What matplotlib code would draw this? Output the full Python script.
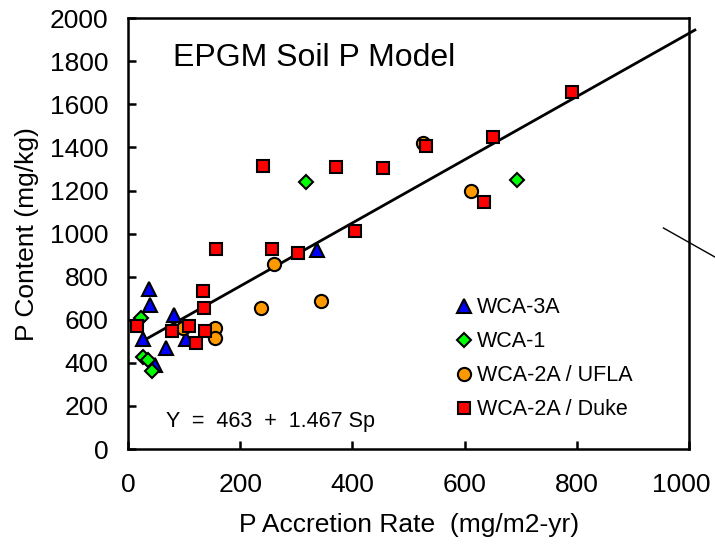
import matplotlib
matplotlib.use('Agg')
import matplotlib.pyplot as plt
from matplotlib.transforms import ScaledTranslation

plt.rcParams['font.family'] = ['Liberation Sans', 'DejaVu Sans']

# Data
wca3a_x = [38, 39, 82, 27, 68, 103, 48, 337]
wca3a_y = [745, 668, 622, 510, 469, 510, 390, 923]

wca1_x = [23, 27, 36, 43, 318, 693]
wca1_y = [608, 427, 413, 362, 1239, 1248]

ufla_x = [98, 155, 155, 260, 237, 344, 526, 611]
ufla_y = [562, 562, 515, 858, 654, 687, 1420, 1197]

duke_x = [241, 157, 257, 303, 134, 135, 16, 79, 109, 121, 137, 405, 371, 455, 531, 651, 635, 791]
duke_y = [1313, 928, 928, 909, 733, 654, 571, 548, 571, 492, 548, 1012, 1309, 1304, 1406, 1448, 1146, 1657]

# regression: Y = 463 + 1.467 Sp
INTERCEPT = 463
SLOPE = 1.467
fit_x = [35, 1010]

# stray segment at the right edge of the original figure
stray_x = [954, 1050]
stray_y = [1026, 885]

x_ticks = [0, 200, 400, 600, 800, 1000]
y_ticks = [0, 200, 400, 600, 800, 1000, 1200, 1400, 1600, 1800, 2000]


def main():
    fig = plt.figure(figsize=(7.15, 5.49), dpi=100)
    ax = fig.add_axes([0.179, 0.182, 0.785, 0.785])

    fit_y = [INTERCEPT + SLOPE * v for v in fit_x]
    ax.plot(fit_x, fit_y, color='black', linewidth=2, clip_on=False, zorder=2)
    ax.plot(stray_x, stray_y, color='black', linewidth=1, clip_on=False, zorder=2)

    ax.plot(wca3a_x, wca3a_y, '^', color='#0000ff', markersize=10.5,
            markeredgecolor='black', markeredgewidth=1.5, label='WCA-3A', zorder=3)
    ax.plot(wca1_x, wca1_y, 'D', color='#00ff00', markersize=7.2,
            markeredgecolor='black', markeredgewidth=1.5, label='WCA-1', zorder=4)
    ax.plot(ufla_x, ufla_y, 'o', color='#ff9900', markersize=9.5,
            markeredgecolor='black', markeredgewidth=1.5, label='WCA-2A / UFLA', zorder=5)
    ax.plot(duke_x, duke_y, 's', color='#ff0000', markersize=8,
            markeredgecolor='black', markeredgewidth=1.5, label='WCA-2A / Duke', zorder=6)

    ax.set_xlim(0, 1000)
    ax.set_ylim(0, 2000)
    ax.set_xticks(x_ticks)
    ax.set_yticks(y_ticks)
    ax.tick_params(direction='in', length=6, width=1.8, labelsize=19)
    ax.tick_params(axis='x', pad=17)
    ax.tick_params(axis='y', pad=14)
    for s in ax.spines.values():
        s.set_linewidth(1.8)

    ax.set_xlabel('P Accretion Rate  (mg/m2-yr)', fontsize=19, labelpad=12)
    ax.set_ylabel('P Content (mg/kg)', fontsize=19, labelpad=8)

    ax.text(0.08, 0.907, 'EPGM Soil P Model', transform=ax.transAxes,
            fontsize=23, va='center', ha='left')
    ax.text(68, 130, 'Y  =  463  +  1.467 Sp', fontsize=15.5, va='center', ha='left')

    ax.legend(loc='upper left', bbox_to_anchor=(0.583, 0.352), frameon=False,
              fontsize=15.5, handlelength=0.8, handletextpad=0.2, labelspacing=0.6,
              borderpad=0, borderaxespad=0, numpoints=1)

    # the last x label sits a little left of its tick, as in the original
    fig.canvas.draw()
    last = ax.get_xticklabels()[-1]
    last.set_transform(last.get_transform() + ScaledTranslation(-6 / 72, 0, fig.dpi_scale_trans))

    fig.savefig('out.png', dpi=100)


if __name__ == '__main__':
    main()
